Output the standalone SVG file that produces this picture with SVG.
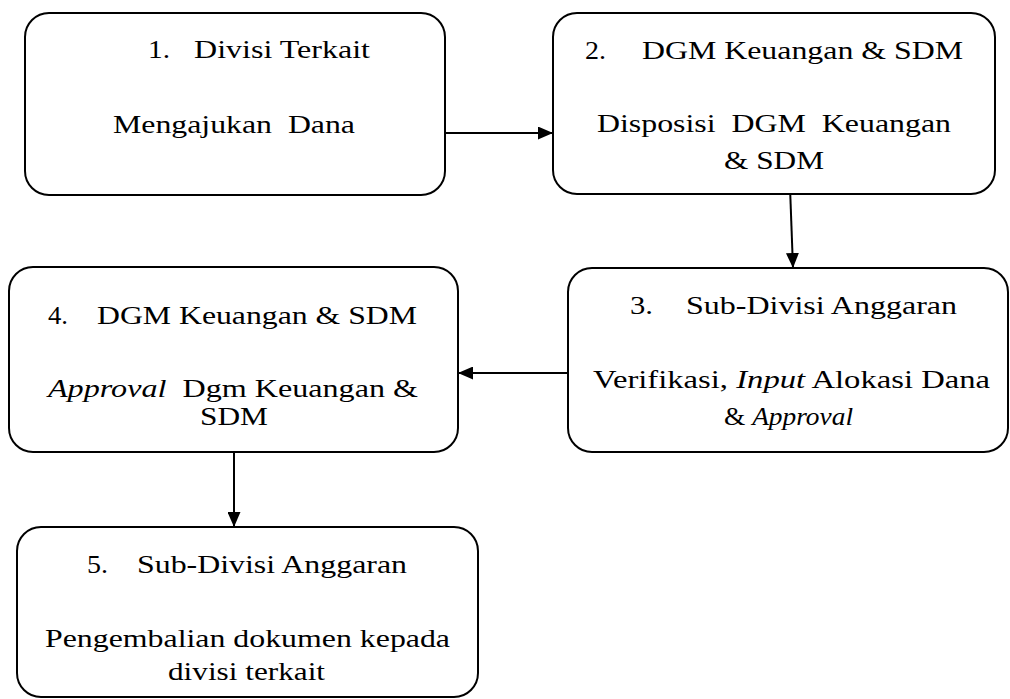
<svg xmlns="http://www.w3.org/2000/svg" width="1010" height="699" viewBox="0 0 1010 699">
<style>
.box{fill:#fff;stroke:#000;stroke-width:2}
.t{font-family:'Liberation Serif','Times New Roman',serif;font-size:26px;fill:#000}
.i{font-style:italic}
.c{stroke:#000;stroke-width:2;fill:none}
</style>
<defs>
<marker id="ah" markerUnits="userSpaceOnUse" markerWidth="16" markerHeight="13" refX="15" refY="6.5" orient="auto">
<path d="M0,0 L15,6.5 L0,13 Z" fill="#000"/>
</marker>
</defs>
<rect width="1010" height="699" fill="#fff"/>
<g id="connectors">
<line class="c" x1="445" y1="133" x2="553" y2="133" marker-end="url(#ah)"/>
<line class="c" x1="790" y1="187" x2="793" y2="268" marker-end="url(#ah)"/>
<line class="c" x1="568" y1="373" x2="458" y2="373" marker-end="url(#ah)"/>
<line class="c" x1="234" y1="452" x2="234" y2="527" marker-end="url(#ah)"/>
</g>
<g id="node1">
<rect class="box" x="25" y="13" width="420" height="182" rx="24"/>
<text class="t" x="148" y="58" textLength="22" lengthAdjust="spacingAndGlyphs">1.</text>
<text class="t" x="194" y="58" textLength="176" lengthAdjust="spacingAndGlyphs">Divisi Terkait</text>
<text class="t" x="113" y="133" textLength="242" lengthAdjust="spacingAndGlyphs" xml:space="preserve">Mengajukan  Dana</text>
</g>
<g id="node2">
<rect class="box" x="553" y="13" width="442" height="181" rx="24"/>
<text class="t" x="585" y="59" textLength="21" lengthAdjust="spacingAndGlyphs">2.</text>
<text class="t" x="642" y="59" textLength="321" lengthAdjust="spacingAndGlyphs">DGM Keuangan &amp; SDM</text>
<text class="t" x="597" y="132" textLength="354" lengthAdjust="spacingAndGlyphs" xml:space="preserve">Disposisi  DGM  Keuangan</text>
<text class="t" x="724" y="169" textLength="100" lengthAdjust="spacingAndGlyphs">&amp; SDM</text>
</g>
<g id="node3">
<rect class="box" x="568" y="268" width="440" height="184" rx="24"/>
<text class="t" x="630" y="314" textLength="23" lengthAdjust="spacingAndGlyphs">3.</text>
<text class="t" x="686" y="314" textLength="271" lengthAdjust="spacingAndGlyphs">Sub-Divisi Anggaran</text>
<text class="t" x="593" y="388" textLength="397" lengthAdjust="spacingAndGlyphs">Verifikasi, <tspan class="i">Input</tspan> Alokasi Dana</text>
<text class="t" x="724" y="425" textLength="129" lengthAdjust="spacingAndGlyphs">&amp; <tspan class="i">Approval</tspan></text>
</g>
<g id="node4">
<rect class="box" x="9" y="267" width="449" height="185" rx="24"/>
<text class="t" x="48" y="324" textLength="20" lengthAdjust="spacingAndGlyphs">4.</text>
<text class="t" x="97" y="324" textLength="320" lengthAdjust="spacingAndGlyphs">DGM Keuangan &amp; SDM</text>
<text class="t" x="48" y="397" textLength="370" lengthAdjust="spacingAndGlyphs" xml:space="preserve"><tspan class="i">Approval</tspan>  Dgm Keuangan &amp;</text>
<text class="t" x="200" y="425" textLength="68" lengthAdjust="spacingAndGlyphs">SDM</text>
</g>
<g id="node5">
<rect class="box" x="17" y="527" width="461" height="170" rx="24"/>
<text class="t" x="87" y="573" textLength="21" lengthAdjust="spacingAndGlyphs">5.</text>
<text class="t" x="137" y="573" textLength="270" lengthAdjust="spacingAndGlyphs">Sub-Divisi Anggaran</text>
<text class="t" x="45" y="647" textLength="405" lengthAdjust="spacingAndGlyphs">Pengembalian dokumen kepada</text>
<text class="t" x="168" y="680" textLength="157" lengthAdjust="spacingAndGlyphs">divisi terkait</text>
</g>
</svg>
